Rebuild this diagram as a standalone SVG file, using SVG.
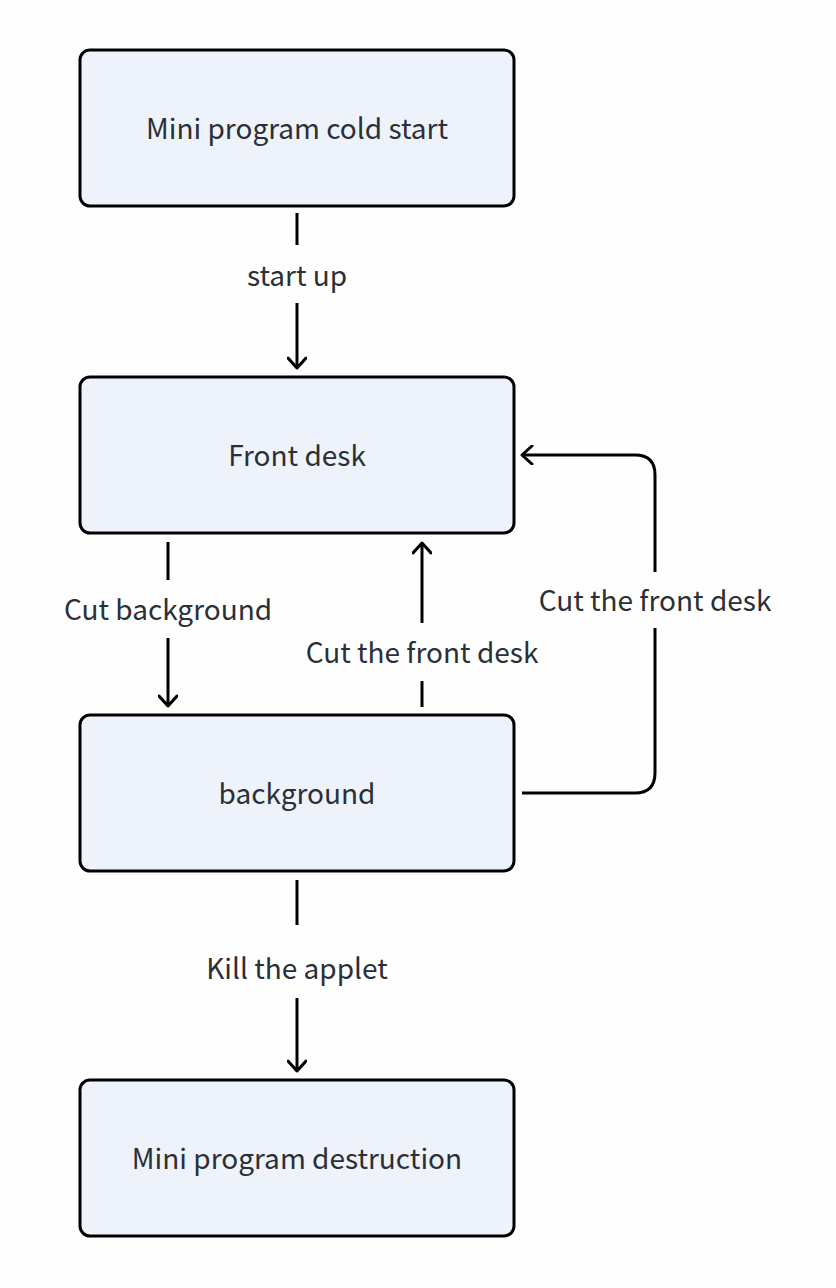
<svg xmlns="http://www.w3.org/2000/svg" width="836" height="1288" viewBox="0 0 836 1288">
<style>
.box{fill:#eef2fb;stroke:#000;stroke-width:3}
.t{font-family:"Noto Sans CJK SC","Noto Sans",sans-serif;font-size:28px;fill:#2b2f36;text-anchor:middle;dominant-baseline:central}
.c{fill:none;stroke:#000;stroke-width:3;stroke-linejoin:round}
</style>
<defs>
<marker id="a" viewBox="0 0 20 20" refX="16" refY="10" markerWidth="20" markerHeight="20" markerUnits="userSpaceOnUse" orient="auto">
<path d="M6,1 L16,10 L6,19" fill="none" stroke="#000" stroke-width="3" stroke-linecap="round" stroke-linejoin="round"/>
</marker>
</defs>
<rect width="836" height="1288" fill="#fefefe"/>
<g id="n1"><rect class="box" x="80" y="50" width="434" height="156" rx="10"/><text class="t" x="297" y="127">Mini program cold start</text></g>
<g id="n2"><rect class="box" x="80" y="377" width="434" height="156" rx="10"/><text class="t" x="297" y="454">Front desk</text></g>
<g id="n3"><rect class="box" x="80" y="715" width="434" height="156" rx="10"/><text class="t" x="297" y="792">background</text></g>
<g id="n4"><rect class="box" x="80" y="1080" width="434" height="156" rx="10"/><text class="t" x="297" y="1157">Mini program destruction</text></g>
<g id="connectors">
<line class="c" x1="297" y1="213" x2="297" y2="245"/>
<line class="c" x1="297" y1="303" x2="297" y2="368" marker-end="url(#a)"/>
<text class="t" x="297" y="274">start up</text>
<line class="c" x1="168" y1="542" x2="168" y2="580"/>
<line class="c" x1="168" y1="638" x2="168" y2="706" marker-end="url(#a)"/>
<text class="t" x="168" y="608">Cut background</text>
<line class="c" x1="422" y1="707" x2="422" y2="681"/>
<line class="c" x1="422" y1="623" x2="422" y2="543" marker-end="url(#a)"/>
<text class="t" x="422" y="651">Cut the front desk</text>
<path class="c" d="M522,793 H635 Q655,793 655,773 V628"/>
<path class="c" d="M655,572 V475 Q655,455 635,455 H522" marker-end="url(#a)"/>
<text class="t" x="655" y="599">Cut the front desk</text>
<line class="c" x1="297" y1="880" x2="297" y2="925"/>
<line class="c" x1="297" y1="998" x2="297" y2="1071" marker-end="url(#a)"/>
<text class="t" x="297" y="967">Kill the applet</text>
</g>
</svg>
